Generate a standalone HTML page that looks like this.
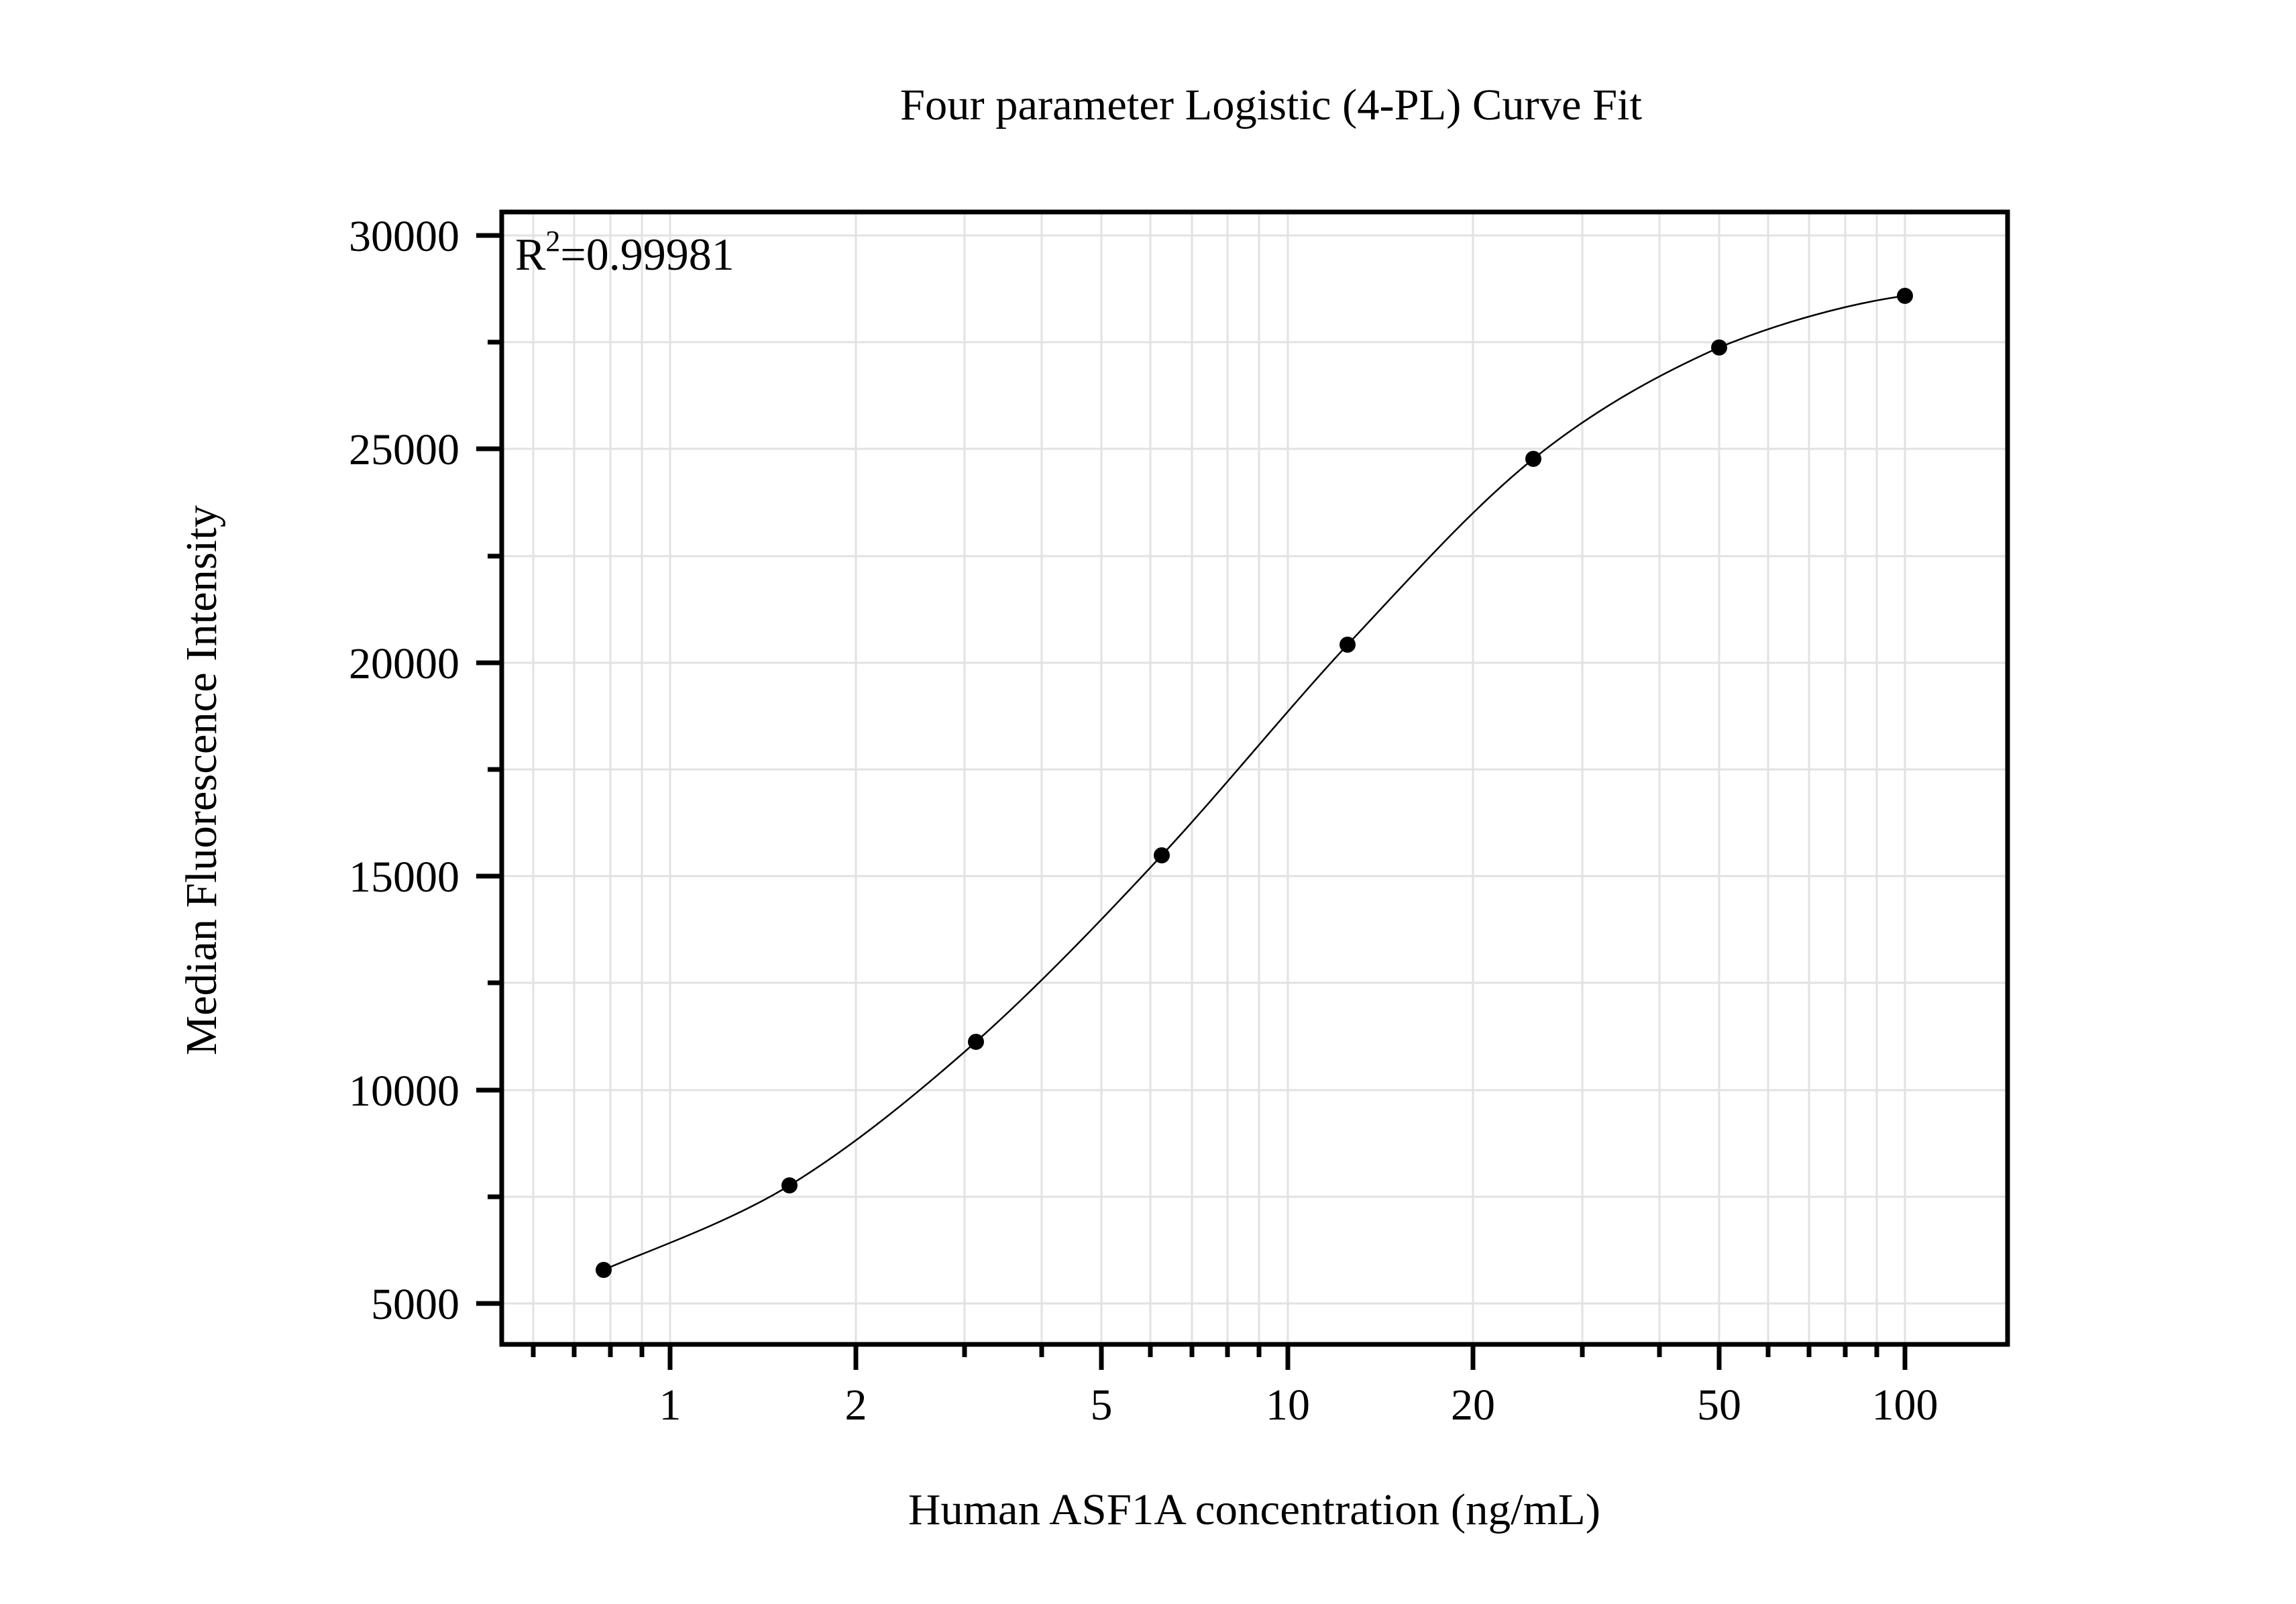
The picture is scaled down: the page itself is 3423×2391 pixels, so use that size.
<!DOCTYPE html>
<html><head><meta charset="utf-8"><style>html,body{margin:0;padding:0;background:#fff}svg{display:block}</style></head>
<body>
<svg xmlns="http://www.w3.org/2000/svg" width="3423" height="2391" viewBox="0 0 3423 2391" font-family="Liberation Serif, serif" fill="#000">
<rect width="3423" height="2391" fill="#fff"/>
<g stroke="#e2e2e2" stroke-width="3" fill="none">
<path d="M795 316V2004M856 316V2004M910 316V2004M957 316V2004M999 316V2004M1276 316V2004M1438 316V2004M1553 316V2004M1642 316V2004M1715 316V2004M1777 316V2004M1830 316V2004M1877 316V2004M1920 316V2004M2196 316V2004M2359 316V2004M2474 316V2004M2563 316V2004M2636 316V2004M2697 316V2004M2751 316V2004M2798 316V2004M2840 316V2004"/>
<path d="M748 351H2992M748 510H2992M748 669H2992M748 829H2992M748 988H2992M748 1147H2992M748 1306H2992M748 1465H2992M748 1625H2992M748 1784H2992M748 1943H2992"/>
</g>
<rect x="748" y="316" width="2245" height="1688" fill="none" stroke="#000" stroke-width="7"/>
<g stroke="#000" stroke-width="7" fill="none">
<path d="M999 2004v38M1920 2004v38M2840 2004v38M1276 2004v38M1642 2004v38M2196 2004v38M2563 2004v38"/>
<path d="M795 2004v19M856 2004v19M910 2004v19M957 2004v19M1438 2004v19M1553 2004v19M1715 2004v19M1777 2004v19M1830 2004v19M1877 2004v19M2359 2004v19M2474 2004v19M2636 2004v19M2697 2004v19M2751 2004v19M2798 2004v19"/>
<path d="M745 351h-35M745 669h-35M745 988h-35M745 1306h-35M745 1625h-35M745 1943h-35"/>
<path d="M745 510h-18M745 829h-18M745 1147h-18M745 1465h-18M745 1784h-18"/>
</g>
<g font-size="66" text-anchor="end">
<text x="685" y="374">30000</text>
<text x="685" y="692">25000</text>
<text x="685" y="1011">20000</text>
<text x="685" y="1329">15000</text>
<text x="685" y="1648">10000</text>
<text x="685" y="1966">5000</text>
</g>
<g font-size="66" text-anchor="middle">
<text x="999" y="2116">1</text>
<text x="1276" y="2116">2</text>
<text x="1642" y="2116">5</text>
<text x="1920" y="2116">10</text>
<text x="2196" y="2116">20</text>
<text x="2563" y="2116">50</text>
<text x="2840" y="2116">100</text>
</g>
<text x="1895" y="178" font-size="66" text-anchor="middle" textLength="1106" lengthAdjust="spacingAndGlyphs">Four parameter Logistic (4-PL) Curve Fit</text>
<text x="1870" y="2272" font-size="66" text-anchor="middle" textLength="1032" lengthAdjust="spacingAndGlyphs">Human ASF1A concentration (ng/mL)</text>
<text transform="translate(322,1163) rotate(-90)" font-size="66" text-anchor="middle" textLength="820" lengthAdjust="spacingAndGlyphs">Median Fluorescence Intensity</text>
<text x="768" y="402" font-size="68">R<tspan font-size="44" dy="-28">2</tspan><tspan dy="28">=0.99981</tspan></text>
<path d="M900 1893C946 1872 1085 1824 1177 1767C1270 1710 1362 1635 1455 1553C1547 1471 1640 1374 1732 1275C1824 1176 1917 1060 2009 961C2101 863 2194 758 2286 684C2378 610 2471 559 2563 518C2655 480 2760 452 2840 441" fill="none" stroke="#000" stroke-width="2.5"/>
<g>
<circle cx="900" cy="1893" r="12"/>
<circle cx="1177" cy="1767" r="12"/>
<circle cx="1455" cy="1553" r="12"/>
<circle cx="1732" cy="1275" r="12"/>
<circle cx="2009" cy="961" r="12"/>
<circle cx="2286" cy="684" r="12"/>
<circle cx="2563" cy="518" r="12"/>
<circle cx="2840" cy="441" r="12"/>
</g>
</svg>
</body></html>
